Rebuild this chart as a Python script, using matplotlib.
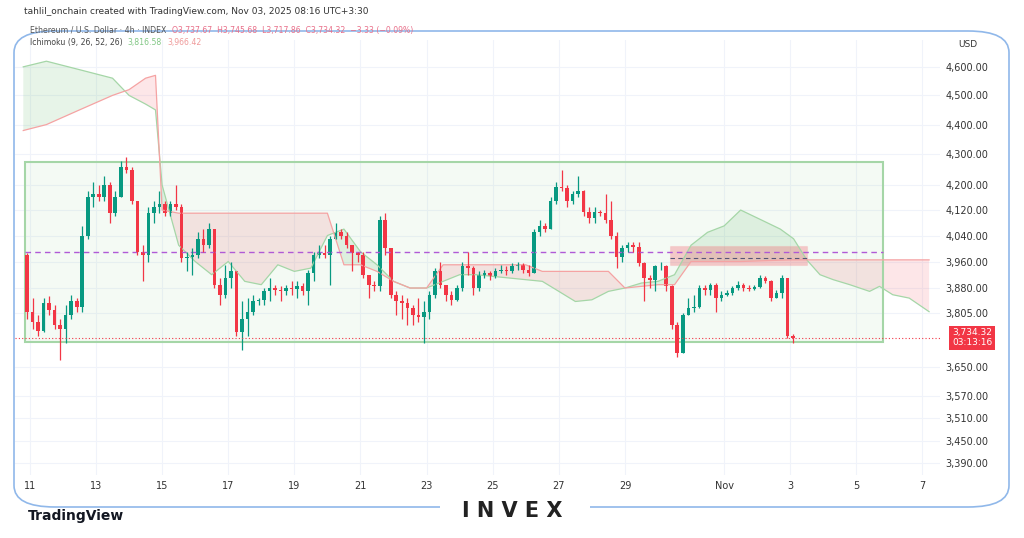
import numpy as np
import matplotlib.pyplot as plt
import matplotlib.dates as mdates
from matplotlib.patches import Rectangle, FancyBboxPatch
from datetime import datetime

# ---- candles (4h), first candle opens Oct 10 20:00 ----
start = datetime(2025, 10, 10, 20)
first_open = 3980
closes = [3810, 3780, 3755, 3835, 3815, 3770, 3760, 3800, 3840, 3825,
          4040, 4160, 4170, 4160, 4200, 4110, 4160, 4260, 4250, 4150,
          3990, 3980, 4110, 4130, 4140, 4110, 4140, 4130, 3970, 3975,
          3980, 4030, 4010, 4060, 3890, 3860, 3910, 3930, 3750, 3790,
          3810, 3840, 3845, 3870, 3880, 3875, 3870, 3880, 3878, 3885,
          3870, 3925, 3980, 3985, 3980, 4030, 4050, 4040, 4010, 3985,
          3980, 3920, 3890, 3885, 4090, 4000, 3860, 3840, 3835, 3820,
          3800, 3795, 3810, 3860, 3930, 3890, 3860, 3845, 3880, 3945,
          3940, 3880, 3920, 3925, 3915, 3930, 3935, 3930, 3945, 3948,
          3935, 3925, 4050, 4070, 4060, 4150, 4195, 4190, 4150, 4170,
          4180, 4115, 4095, 4115, 4110, 4090, 4040, 3975, 4000, 4010,
          4005, 3955, 3910, 3905, 3945, 3945, 3885, 3770, 3690, 3800,
          3820, 3825, 3880, 3875, 3890, 3850, 3860, 3865, 3880, 3888,
          3880, 3878, 3883, 3910, 3900, 3850, 3865, 3910, 3738, 3734.32]
highs = [3985, 3850, 3800, 3850, 3855, 3830, 3790, 3830, 3860, 3850,
         4070, 4180, 4210, 4200, 4230, 4210, 4180, 4280, 4290, 4260,
         4150, 4010, 4130, 4150, 4180, 4150, 4150, 4200, 4140, 3990,
         4000, 4050, 4060, 4080, 4060, 3910, 3950, 3960, 3930, 3840,
         3850, 3860, 3850, 3880, 3910, 3890, 3885, 3890, 3900, 3900,
         3895, 3935, 3990, 4010, 4010, 4040, 4080, 4060, 4050, 4010,
         3990, 3990, 3920, 3900, 4100, 4110, 4000, 3870, 3860, 3850,
         3830, 3850, 3840, 3870, 3940, 3960, 3890, 3870, 3890, 3960,
         3990, 3945, 3930, 3935, 3930, 3940, 3950, 3945, 3955, 3960,
         3955, 3950, 4060, 4090, 4080, 4160, 4210, 4250, 4200, 4180,
         4230, 4185, 4130, 4130, 4120, 4170, 4150, 4050, 4010, 4020,
         4020, 4020, 3960, 3920, 3950, 3960, 3950, 3890, 3780, 3805,
         3850, 3860, 3890, 3890, 3895, 3895, 3870, 3875, 3885, 3900,
         3895, 3890, 3890, 3920, 3915, 3905, 3875, 3920, 3910, 3745.68]
lows = [3790, 3760, 3740, 3750, 3800, 3760, 3670, 3720, 3790, 3810,
        3810, 4030, 4130, 4150, 4150, 4080, 4100, 4160, 4240, 4140,
        3980, 3900, 3960, 4080, 4110, 4100, 4100, 4120, 3960, 3930,
        3920, 3970, 3990, 4000, 3880, 3830, 3850, 3880, 3740, 3700,
        3740, 3800, 3830, 3830, 3840, 3860, 3840, 3860, 3860, 3850,
        3860, 3830, 3900, 3970, 3970, 3890, 4030, 4030, 4000, 3930,
        3960, 3910, 3850, 3870, 3870, 3980, 3850, 3800, 3790, 3770,
        3770, 3780, 3720, 3790, 3850, 3880, 3840, 3830, 3840, 3870,
        3920, 3860, 3870, 3910, 3905, 3910, 3925, 3920, 3925, 3935,
        3925, 3915, 3925, 4040, 4050, 4060, 4140, 4180, 4130, 4140,
        4160, 4100, 4080, 4080, 4100, 4080, 4030, 3940, 3960, 3990,
        3990, 3945, 3840, 3880, 3870, 3935, 3870, 3760, 3680, 3690,
        3800, 3810, 3820, 3860, 3860, 3810, 3840, 3855, 3860, 3875,
        3870, 3870, 3875, 3880, 3895, 3840, 3850, 3850, 3735, 3717.86]

# ---- ichimoku cloud (day of October; 32 = Nov 1) ----
cloud_days = [10.8, 11.5, 12.5, 13.5, 14.0, 14.5, 14.8, 15.0, 15.5, 16, 16.5, 17, 17.5,
              18, 18.5, 19, 19.5, 20, 20.5, 21, 21.5, 22, 22.5, 23, 23.5, 24, 24.5,
              25, 25.5, 26, 26.5, 27, 27.5, 28, 28.5, 29, 29.5, 30, 30.5, 31, 31.5,
              32, 32.5, 33.1, 33.7, 34.1, 34.5, 34.9, 35.3, 35.8, 36.4, 36.7, 37.1, 37.6, 38.2]
span_a = [4600, 4620, 4590, 4560, 4500, 4470, 4450, 4200, 4010, 3960, 3920, 3960, 3900,
          3890, 3950, 3930, 3940, 4040, 4060, 3990, 3950, 3900, 3880, 3880, 3900, 3920, 3920,
          3915, 3910, 3905, 3900, 3870, 3840, 3845, 3870, 3880, 3895, 3900, 3920, 4010, 4050,
          4070, 4120, 4090, 4060, 4030, 3965, 3920, 3905, 3890, 3870, 3885, 3860, 3850, 3810]
span_b = [4380, 4400, 4450, 4500, 4520, 4560, 4570, 4120, 4110, 4110, 4110, 4110, 4110,
          4110, 4110, 4110, 4110, 4110, 3950, 3950, 3930, 3900, 3880, 3880, 3950, 3950, 3950,
          3950, 3950, 3950, 3930, 3930, 3930, 3930, 3930, 3880, 3885, 3890, 3890, 3960, 3960,
          3960, 3960, 3962, 3964, 3965, 3965, 3965, 3965, 3965, 3965, 3965, 3965, 3965, 3965]

price_ticks = [4600, 4500, 4400, 4300, 4200, 4120, 4040, 3960, 3880, 3805,
               3650, 3570, 3510, 3450, 3390]
last_price = 3734.32
date_ticks = [(10, 11), (10, 13), (10, 15), (10, 17), (10, 19), (10, 21), (10, 23), (10, 25),
              (10, 27), (10, 29), (11, 1), (11, 3), (11, 5), (11, 7)]
date_labels = ["11", "13", "15", "17", "19", "21", "23", "25", "27", "29", "Nov", "3", "5", "7"]

UP = "#089981"
DOWN = "#f23645"

fig = plt.figure(figsize=(10.24, 5.38), dpi=100)
ax = fig.add_axes([15 / 1024, 1 - 475 / 538, 925 / 1024, 435 / 538])
ax.set_yscale("log")


def oct_day(d):
    return mdates.date2num(datetime(2025, 10, 1)) + d - 1


# cloud
cx = [oct_day(d) for d in cloud_days]
a = np.array(span_a, float)
b = np.array(span_b, float)
ax.fill_between(cx, a, b, where=a >= b, interpolate=True, color="#4caf50", alpha=0.13, lw=0)
ax.fill_between(cx, a, b, where=a < b, interpolate=True, color="#f23645", alpha=0.12, lw=0)
ax.plot(cx, a, color="#a5d6a7", lw=0.9)
ax.plot(cx, b, color="#f5a3a3", lw=0.9)

# range box
x0 = oct_day(10.85)
x1 = oct_day(36.8)
ax.add_patch(Rectangle((x0, 3722), x1 - x0, 4274 - 3722, facecolor="#4caf50", alpha=0.06,
                       edgecolor="none"))
ax.add_patch(Rectangle((x0, 3722), x1 - x0, 4274 - 3722, facecolor="none",
                       edgecolor="#a5d6a7", lw=1.5))
ax.hlines(3989, x0, x1, colors="#b05ad6", linestyles=(0, (4, 3)), lw=1)

# red zone
r0 = oct_day(30.35)
r1 = oct_day(34.5)
ax.add_patch(Rectangle((r0, 3948), r1 - r0, 4009 - 3948, facecolor="#f23645", alpha=0.25,
                       edgecolor="#f5a3a3", lw=0.8))
ax.hlines(3972, r0, r1, colors="#555577", linestyles=(0, (4, 3)), lw=0.8)

# candles
t0 = mdates.date2num(start)
w = 4 / 24 * 0.65
opens = [first_open] + closes[:-1]
for i, (o, c, h, l) in enumerate(zip(opens, closes, highs, lows)):
    x = t0 + i * 4 / 24 + 2 / 24
    col = UP if c >= o else DOWN
    ax.vlines(x, l, h, color=col, lw=0.9)
    lo, hi = min(o, c), max(o, c)
    ax.add_patch(Rectangle((x - w / 2, lo), w, max(hi - lo, 2), color=col, lw=0))

# last price line
ax.axhline(last_price, color=DOWN, ls=(0, (1, 2)), lw=0.8)

ax.set_xlim(oct_day(10.55), oct_day(38.53))
ax.set_ylim(3360, 4696)
ax.yaxis.tick_right()
ax.set_yticks(price_ticks)
ax.set_yticklabels([f"{p:,.2f}" for p in price_ticks], fontsize=7, color="#333333")
ax.yaxis.set_minor_locator(plt.NullLocator())
ax.set_xticks([mdates.date2num(datetime(2025, m, d)) for m, d in date_ticks])
ax.set_xticklabels(date_labels, fontsize=7, color="#333333")
ax.tick_params(length=0, pad=4)
ax.grid(True, color="#f0f3fa", lw=0.8)
ax.set_axisbelow(True)
for s in ax.spines.values():
    s.set_visible(False)

ax.text(1.013, last_price, f"{last_price:,.2f}\n03:13:16", transform=ax.get_yaxis_transform(),
        fontsize=6.5, color="white", va="center", ha="left", linespacing=1.1,
        bbox=dict(boxstyle="square,pad=0.3", fc=DOWN, ec="none"))
ax.text(1.02, 1.0, "USD", transform=ax.transAxes, fontsize=6.5, color="#333333", va="top")

# header texts
fig.text(24 / 1024, 1 - 12 / 538, "tahlil_onchain created with TradingView.com, Nov 03, 2025 08:16 UTC+3:30",
         fontsize=6.5, color="#333333", va="center")
fig.text(30 / 1024, 1 - 30 / 538, "Ethereum / U.S. Dollar · 4h · INDEX", fontsize=5.6, color="#555555",
         va="center")
fig.text(172 / 1024, 1 - 30 / 538, "O3,737.67  H3,745.68  L3,717.86  C3,734.32  −3.33 (−0.09%)",
         fontsize=5.6, color="#e8708a", va="center")
fig.text(30 / 1024, 1 - 43 / 538, "Ichimoku (9, 26, 52, 26)", fontsize=5.6, color="#444444", va="center")
fig.text(127 / 1024, 1 - 43 / 538, "3,816.58", fontsize=5.6, color="#81c784", va="center")
fig.text(167 / 1024, 1 - 43 / 538, "3,966.42", fontsize=5.6, color="#ef9a9a", va="center")

# watermark frame
frame = FancyBboxPatch((14 / 1024, 1 - 507 / 538), 995 / 1024, 476 / 538,
                       boxstyle="round,pad=0,rounding_size=0.04", transform=fig.transFigure,
                       fill=False, ec="#90b8ea", lw=1.2)
fig.patches.append(frame)
fig.patches.append(Rectangle((440 / 1024, 1 - 512 / 538), 150 / 1024, 12 / 538,
                             transform=fig.transFigure, fc="white", ec="none"))
fig.text(512 / 1024, 1 - 511 / 538, "I N V E X", fontsize=15, fontweight="bold", ha="center",
         va="center", color="#222222")
fig.text(28 / 1024, 1 - 516 / 538, "TradingView", fontsize=10, fontweight="bold", va="center",
         color="#131722")

fig.savefig("out.png", dpi=100)
